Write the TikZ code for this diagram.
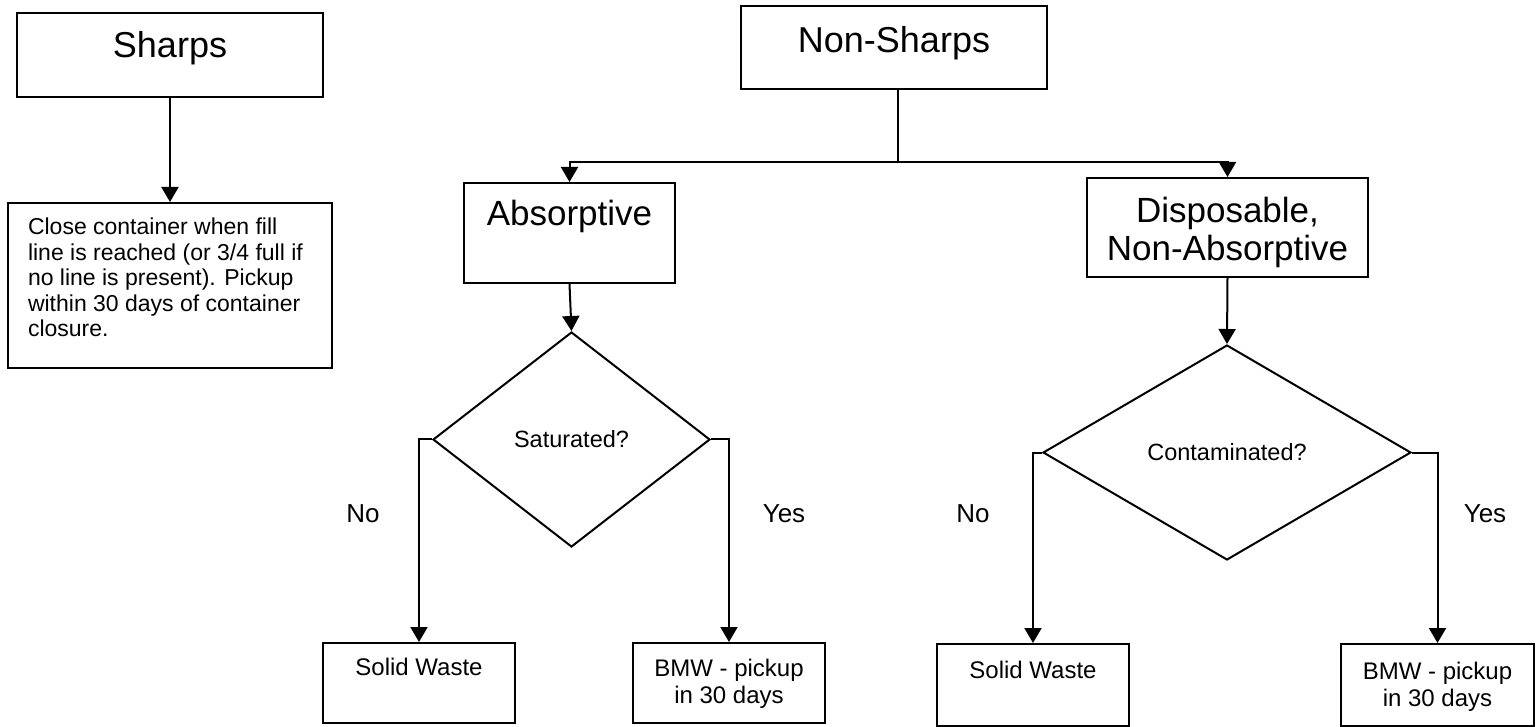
\documentclass[tikz,border=0pt]{standalone}
\usepackage{fontspec}
\setmainfont{Liberation Sans}
\usetikzlibrary{arrows.meta,shapes.geometric}
\begin{document}
\begin{tikzpicture}[x=0.5pt,y=-0.5pt,
  every node/.style={inner sep=0pt},
  box/.style={draw, line width=1pt, anchor=north west},
  big/.style={font=\fontsize{18}{21}\selectfont},
  mid/.style={font=\fontsize{17.5}{19}\selectfont},
  small/.style={font=\fontsize{12}{13.5}\selectfont},
  yn/.style={font=\fontsize{13}{15}\selectfont, anchor=base},
  dec/.style={draw, diamond, line width=1pt, font=\fontsize{11.75}{13}\selectfont},
  conn/.style={line width=1pt},
  arr/.style={conn, -{Triangle[width=8.5pt,length=7.5pt]}}
]
\useasboundingbox (0,0) rectangle (1538,727);

\node[box,big,minimum width=153pt,text height=22.5pt,text depth=19.5pt] (sharps) at (16,12) {Sharps};
\node[box,font=\fontsize{11.5}{12.7}\selectfont,minimum width=162pt,text height=16pt,text depth=66.5pt] (close) at (7,202)
  {\parbox[t]{142pt}{\raggedright Close container when fill\\line is reached (or 3/4 full if\\no line is present). Pickup\\within 30 days of container\\closure.}};

\node[box,big,minimum width=153pt,text height=23.5pt,text depth=18pt] (nonsharps) at (740,5) {Non-Sharps};
\node[box,mid,minimum width=105.5pt,text height=21.5pt,text depth=28.5pt] (absorb) at (463,182) {Absorptive};
\node[box,mid,minimum width=140.5pt,text height=22.5pt,text depth=27pt] (dispo) at (1086,177)
  {\parbox[t]{135pt}{\centering Disposable,\\Non-Absorptive}};

\node[dec,minimum width=138.5pt,minimum height=107.5pt] (sat) at (571.5,439.5) {Saturated?};
\node[dec,minimum width=184pt,minimum height=107.5pt] (cont) at (1227,452.5) {Contaminated?};

\node[box,small,minimum width=96pt,text height=16pt,text depth=24pt] (solidL) at (322,642) {Solid Waste};
\node[box,small,minimum width=96pt,text height=16.5pt,text depth=23.5pt] (bmwL) at (632,642)
  {\parbox[t]{90pt}{\centering BMW - pickup\\in 30 days}};
\node[box,small,minimum width=96pt,text height=17pt,text depth=24pt] (solidR) at (936,643) {Solid Waste};
\node[box,small,minimum width=96.5pt,text height=17.5pt,text depth=23.5pt] (bmwR) at (1340,643)
  {\parbox[t]{90pt}{\centering BMW - pickup\\in 30 days}};

\node[yn] (noL) at (363,523) {No};
\node[yn] (yesL) at (784,523) {Yes};
\node[yn] (noR) at (973,522) {No};
\node[yn] (yesR) at (1485,522) {Yes};

\coordinate (split) at (898,162);
\draw[arr] (sharps.south) -- (close.north);
\draw[conn] (nonsharps.south -| split) -- (split);
\draw[arr] (split) -| (absorb.north);
\draw[arr] (split) -| (dispo.north);
\draw[arr] (absorb.south) -- (sat.north);
\draw[arr] (dispo.south) -- (cont.north);
\draw[arr] (sat.west) -| (solidL.north);
\draw[arr] (sat.east) -| (bmwL.north);
\draw[arr] (cont.west) -| (solidR.north);
\draw[arr] (cont.east) -| (bmwR.north);
\end{tikzpicture}
\end{document}
